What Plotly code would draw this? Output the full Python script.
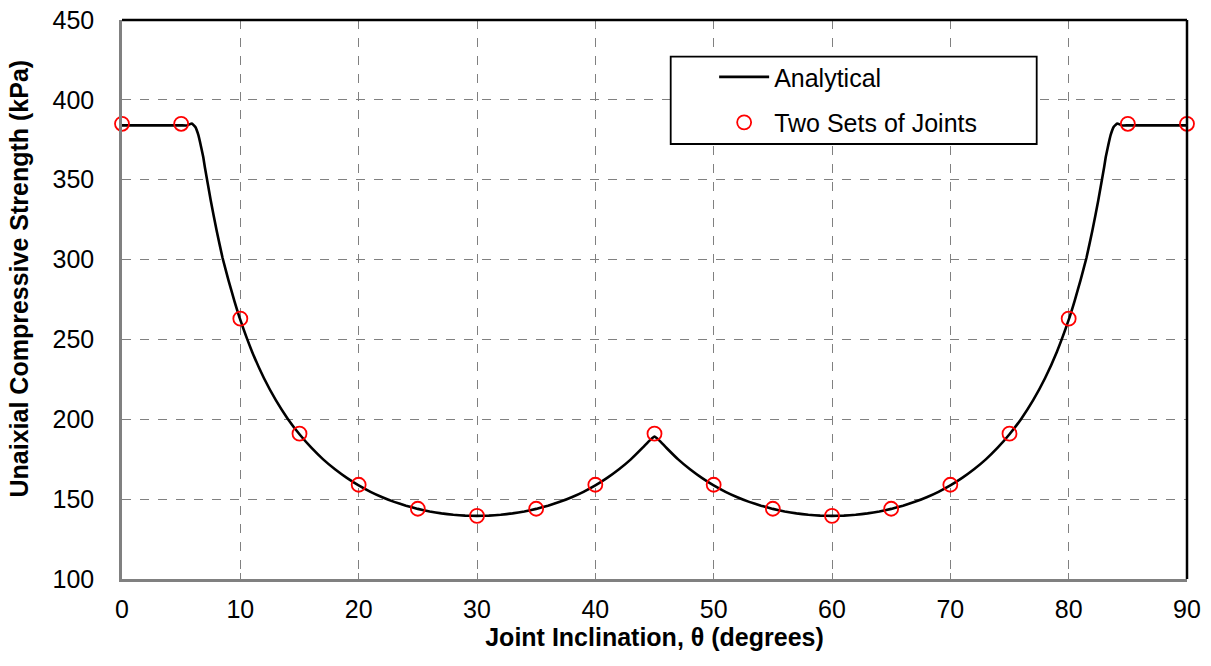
import plotly.graph_objects as go

# Analytical curve
analytical_x = [0, 1, 2, 3, 4, 5, 5.5, 5.9, 6.2, 6.45, 6.7, 6.87, 7, 7.5, 8, 8.5, 9, 9.5, 10,
                11, 12, 13, 14, 15, 16, 17, 18, 19, 20, 21, 22, 23, 24, 25, 26, 27, 28, 29, 30,
                31, 32, 33, 34, 35, 36, 37, 38, 39, 40, 41, 42, 43, 44, 44.6, 45, 45.4, 46,
                47, 48, 49, 50, 51, 52, 53, 54, 55, 56, 57, 58, 59, 60, 61, 62, 63, 64, 65,
                66, 67, 68, 69, 70, 71, 72, 73, 74, 75, 76, 77, 78, 79, 80, 80.5, 81, 81.5,
                82, 82.5, 83, 83.13, 83.3, 83.55, 83.8, 84.1, 84.5, 85, 86, 87, 88, 89, 90]
analytical_y = [384, 384, 384, 384, 384, 384, 384, 385.2, 383, 378, 370, 364, 358, 337, 318, 301, 287, 274, 262.2,
                242.2, 225.7, 212.0, 200.4, 190.6, 182.2, 174.9, 168.7, 163.3, 158.6, 154.6, 151.2, 148.3, 145.9, 143.9, 142.3, 141.1, 140.2, 139.7, 139.5,
                139.7, 140.2, 141.1, 142.3, 143.9, 145.9, 148.3, 151.2, 154.6, 158.6, 163.3, 168.7, 174.9, 182.2, 186.8, 189.2, 186.8, 182.2,
                174.9, 168.7, 163.3, 158.6, 154.6, 151.2, 148.3, 145.9, 143.9, 142.3, 141.1, 140.2, 139.7, 139.5, 139.7, 140.2, 141.1, 142.3, 143.9,
                145.9, 148.3, 151.2, 154.6, 158.6, 163.3, 168.7, 174.9, 182.2, 190.6, 200.4, 212.0, 225.7, 242.2, 262.2, 274, 287, 301,
                318, 337, 358, 364, 370, 378, 383, 385.2, 384, 384, 384, 384, 384, 384, 384]

# Two Sets of Joints (markers)
joints_x = [0, 5, 10, 15, 20, 25, 30, 35, 40, 45, 50, 55, 60, 65, 70, 75, 80, 85, 90]
joints_y = [385, 385, 263, 191, 159, 144, 139.5, 144, 159, 191, 159, 144, 139.5, 144, 159, 191, 263, 385, 385]

x_ticks = [0, 10, 20, 30, 40, 50, 60, 70, 80, 90]
y_ticks = [100, 150, 200, 250, 300, 350, 400, 450]

FONT = "Arial, Liberation Sans, sans-serif"

fig = go.Figure()
fig.add_trace(go.Scatter(
    x=analytical_x, y=analytical_y, mode="lines", name="Analytical",
    line=dict(color="black", width=2.6, shape="spline", smoothing=0.3),
    legendgroup="a",
))
fig.add_trace(go.Scatter(
    x=joints_x, y=joints_y, mode="markers", name="Two Sets of Joints",
    marker=dict(symbol="circle-open", size=14, color="red", line=dict(color="red", width=1.8)),
    legendgroup="b", cliponaxis=False,
))

fig.update_layout(
    width=1211, height=666,
    margin=dict(l=122, r=24, t=20, b=87, autoexpand=False),
    paper_bgcolor="white", plot_bgcolor="white",
    font=dict(family=FONT, size=25, color="black"),
    showlegend=True,
    legend=dict(
        x=0.556, y=0.939, xanchor="left", yanchor="top",
        bgcolor="rgba(0,0,0,0)", borderwidth=0,
        font=dict(family=FONT, size=25, color="black"),
        traceorder="grouped", tracegroupgap=10, itemwidth=50,
    ),
    xaxis=dict(
        range=[0, 90], tickvals=x_ticks, ticktext=[str(v) for v in x_ticks],
        showgrid=True, gridcolor="#808080", griddash="dash", gridwidth=1.3,
        showline=True, linecolor="#808080", linewidth=2.5,
        ticks="inside", ticklen=6, tickcolor="#808080", tickwidth=1.3,
        zeroline=False, ticklabelstandoff=6,
        tickfont=dict(family=FONT, size=25, color="black"),
        title=dict(text="<b>Joint Inclination, θ (degrees)</b>",
                   font=dict(family=FONT, size=25, color="black"), standoff=5),
    ),
    yaxis=dict(
        range=[100, 450], tickvals=y_ticks, ticktext=[str(v) for v in y_ticks],
        showgrid=True, gridcolor="#808080", griddash="dash", gridwidth=1.3,
        showline=True, linecolor="#808080", linewidth=2.5,
        ticks="inside", ticklen=6, tickcolor="#808080", tickwidth=1.3,
        zeroline=False, ticklabelstandoff=20,
        tickfont=dict(family=FONT, size=25, color="black"),
    ),
    annotations=[
        dict(text="<b>Unaixial Compressive Strength (kPa)</b>", textangle=-90,
             xref="paper", yref="paper", x=-0.0965, y=0.538,
             xanchor="center", yanchor="middle", showarrow=False,
             font=dict(family=FONT, size=25, color="black")),
    ],
    shapes=[
        dict(type="line", xref="paper", yref="paper", x0=0, x1=1, y0=1, y1=1,
             line=dict(color="black", width=2.5)),
        dict(type="line", xref="paper", yref="paper", x0=1, x1=1, y0=0, y1=1,
             line=dict(color="black", width=2.5)),
        dict(type="rect", xref="paper", yref="paper",
             x0=(670.7 - 122) / 1065, x1=(1036.7 - 122) / 1065,
             y0=(579 - 144) / 559, y1=(579 - 56.7) / 559,
             line=dict(color="black", width=1.8), fillcolor="white", layer="above"),
    ],
)

fig.write_html("out.html", config={"displayModeBar": False},
               post_script="document.body.style.margin='0';")
